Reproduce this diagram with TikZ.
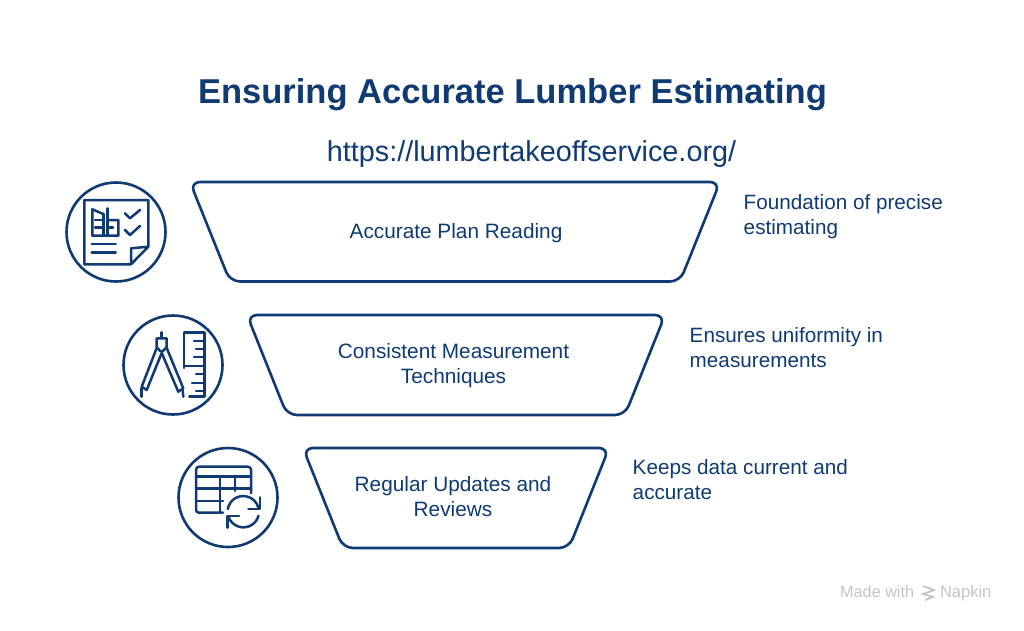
\documentclass[tikz,border=0pt]{standalone}
\usepackage{fontspec}
\setmainfont{Liberation Sans}
\definecolor{navy}{HTML}{0F3A72}
\definecolor{wmark}{HTML}{C4C4C4}
\tikzset{
  funnel/.style={draw=navy,line width=2.6pt,rounded corners=10pt,line join=round},
  ring/.style={draw=navy,line width=2.6pt,circle,minimum size=99pt,inner sep=0pt},
  glyph/.style={draw=navy,line width=2.5pt,line join=round,line cap=round},
  steptext/.style={text=navy,font=\fontsize{20.8}{25}\selectfont,align=center},
  sidetext/.style={text=navy,font=\fontsize{20.7}{25}\selectfont,align=left,anchor=west},
}
\begin{document}
\begin{tikzpicture}[x=1pt,y=-1pt]
  \useasboundingbox (0,0) rectangle (1024,630);
  \node[text=navy,font=\fontsize{34.5}{40}\selectfont\bfseries] (title) at (512.5,95) {Ensuring Accurate Lumber Estimating};
  \node[text=navy,font=\fontsize{28.8}{32}\selectfont] (url) at (531.5,154) {https://lumbertakeoffservice.org/};
  % funnel bands
  \draw[funnel] (190,182) -- (720,182) -- (680,281.5) -- (230,281.5) -- cycle;
  \draw[funnel] (247,315) -- (665,315) -- (625,415) -- (287,415) -- cycle;
  \draw[funnel] (303,448) -- (609,448) -- (569,548) -- (343,548) -- cycle;
  \node[steptext] (plan) at (456,233) {Accurate Plan Reading};
  \node[steptext] (measure) at (453.5,366) {Consistent Measurement\\Techniques};
  \node[steptext] (updates) at (453,497) {Regular Updates and\\Reviews};
  \node[sidetext] (plannote) at (740.2,217) {Foundation of precise\\estimating};
  \node[sidetext] (measurenote) at (686.2,348) {Ensures uniformity in\\measurements};
  \node[sidetext] (updatesnote) at (629.2,480) {Keeps data current and\\accurate};
  % rings
  \node[ring] (planring) at (116,232) {};
  \node[ring] (measurering) at (173,365) {};
  \node[ring] (updatesring) at (228,497.5) {};
  % plan icon
  \draw[glyph] (131,264.3) -- (84.3,264.3) -- (84.3,200) -- (148.3,200) -- (148.3,246.7) -- (131,264.3) -- (131,248.3) -- (148.3,246.7);
  \draw[glyph] (125,213.3) -- (130,218.3) -- (140,210);
  \draw[glyph] (125,230) -- (130,235) -- (140,226);
  \draw[glyph] (91.7,244) -- (115.7,244);
  \draw[glyph] (91.7,252.3) -- (115.7,252.3);
  \draw[glyph] (103.3,214) -- (92.3,209.3) -- (92.3,235.7) -- (118.3,235.7) -- (118.3,220) -- (107.3,220);
  \draw[glyph] (103.3,214) -- (103.3,235.7);
  \draw[glyph] (107.3,208.3) -- (107.3,235.7);
  \draw[glyph] (95,220) -- (103.3,220);
  \draw[glyph] (95,227.3) -- (103.3,227.3);
  \draw[glyph] (107.3,227.3) -- (113,227.3);
  % measure icon
  \draw[glyph] (184,368) -- (184,332.3) -- (204.3,332.3) -- (204.3,396.7) -- (189.3,396.7);
  \foreach \y/\x in {341/194,349/196,357/194,366/184,374/196,383/192,391/196}
    \draw[glyph] (204.3,\y) -- (\x,\y);
  \draw[glyph] (161.7,338.3) -- (161.7,332.3);
  \draw[glyph] (156.7,338.3) -- (166.7,338.3) -- (166.7,347) -- (163,351) -- (160,351) -- (156.7,347) -- cycle;
  \draw[glyph] (156.7,348) -- (141.7,386.7) -- (146.7,390) -- (161.7,353);
  \draw[glyph] (166.7,348) -- (183.3,388.3) -- (178.3,391.7) -- (161.7,353);
  \draw[glyph] (141.7,388) -- (141.7,396.7);
  \draw[glyph] (182.7,390) -- (183.3,396.7);
  % updates icon
  \draw[glyph,rounded corners=3pt] (223,512.7) -- (196,512.7) -- (196,466.7) -- (251,466.7) -- (251,493);
  \draw[glyph] (196,476.7) -- (251,476.7);
  \draw[glyph] (196,488.3) -- (251,488.3);
  \draw[glyph] (196,501) -- (223,501);
  \draw[glyph] (220,476.7) -- (220,512.7);
  \draw[glyph] (235,476.7) -- (235,491);
  \draw[glyph] (227.8,509) arc[start angle=170,end angle=15,radius=15.7pt];
  \draw[glyph] (258.5,515.7) arc[start angle=-15,end angle=-160,radius=15.7pt];
  \draw[glyph] (260,497.3) -- (260,509) -- (248.3,509);
  \draw[glyph] (227.3,527.7) -- (227.3,516) -- (239,516);
  % watermark
  \node[text=wmark,font=\fontsize{16.2}{18}\selectfont,anchor=base west] (made) at (836.7,597) {Made with};
  \node[text=wmark,font=\fontsize{16.5}{18}\selectfont,anchor=base west] (napkin) at (936.5,597) {Napkin};
  \draw[wmark,line width=1.8pt] (923,586) -- (934,590) -- (923,594) -- (933,597) -- (925,600);
\end{tikzpicture}
\end{document}
